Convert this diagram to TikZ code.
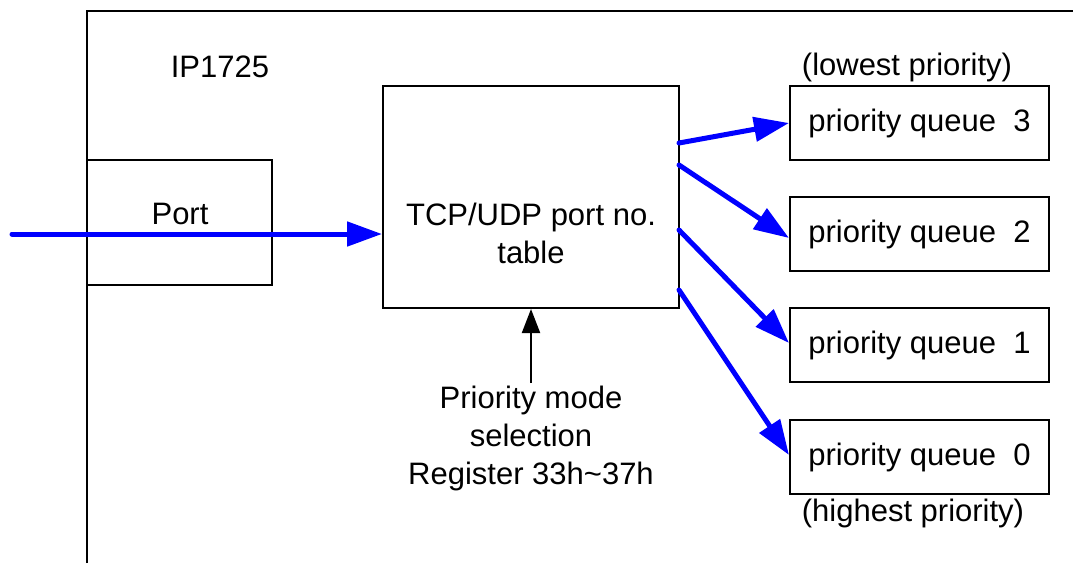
\documentclass[tikz,border=0pt]{standalone}
\usepackage{fontspec}
\setmainfont{Liberation Sans}
\usetikzlibrary{arrows.meta}
\begin{document}
\begin{tikzpicture}[x=1pt,y=-1pt,
  every node/.style={font=\fontsize{31}{38}\selectfont, inner sep=0pt},
  box/.style={draw=black, line width=2pt, minimum width=#1},
  qbox/.style={draw=black, line width=2pt, minimum width=259pt, minimum height=74pt},
  txt/.style={align=center},
  flow/.style={draw=blue, line width=5pt, line cap=round, -{Triangle[length=35pt,width=24pt]}},
  ctrl/.style={draw=black, line width=2pt, -{Triangle[length=24pt,width=18pt]}}]
\useasboundingbox (0,0) rectangle (1073,563);
% outer frame
\coordinate (fb) at (87,563);
\coordinate (ft) at (87,11);
\coordinate (fr) at (1073,11);
\draw[line width=2pt] (fb) -- (ft) -- (fr);
\node[txt] (ip) at (220,67) {IP1725};
% port box
\node[box=185pt, minimum height=125pt] (port) at (179.5,222.5) {};
\node[txt] (portlbl) at (180,214) {Port};
% tcp box
\node[box=296pt, minimum height=222pt] (tcp) at (531,197) {};
\node[txt] (tcplbl) at (531,233) {TCP/UDP port no.\\table};
% queues
\node[qbox] (q3) at (919.5,123) {priority queue\ \ 3};
\node[qbox] (q2) at (919.5,234) {priority queue\ \ 2};
\node[qbox] (q1) at (919.5,345) {priority queue\ \ 1};
\node[qbox] (q0) at (919.5,457) {priority queue\ \ 0};
\node[txt] (low) at (907,67) {(lowest priority)};
\node[txt] (high) at (913,513) {(highest priority)};
% selection text
\node[txt] (sel) at (531,438) {Priority mode\\selection\\Register 33h\textasciitilde 37h};
\coordinate (selt) at (531,383);
\draw[ctrl] (selt) -- (tcp.south);
% input
\coordinate (in) at (12,234);
\draw[flow] (in) -- (in -| tcp.west);
% outputs
\coordinate (o3) at (679,143);
\coordinate (o2) at (679,165);
\coordinate (o1) at (679,230);
\coordinate (o0) at (679,290);
\draw[flow] (o3) -- (q3.west);
\draw[flow] (o2) -- ([yshift=-4pt]q2.west);
\draw[flow] (o1) -- ([yshift=2pt]q1.west);
\draw[flow] (o0) -- ([yshift=2pt]q0.west);
\end{tikzpicture}
\end{document}
